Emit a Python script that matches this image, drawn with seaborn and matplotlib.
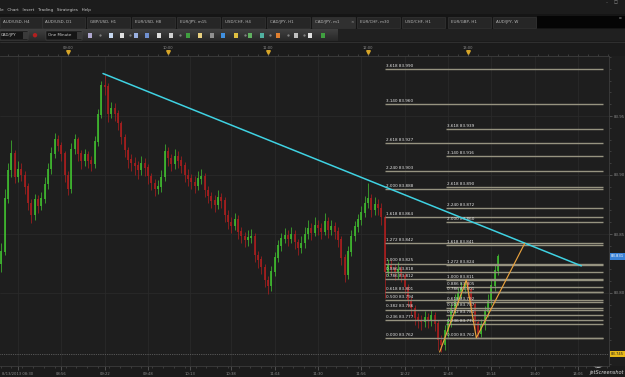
import numpy as np
import pandas as pd
import matplotlib
matplotlib.use("Agg")
import matplotlib.pyplot as plt
import seaborn as sns
from matplotlib.patches import Rectangle, Circle, Arc
from matplotlib.ticker import MultipleLocator, FixedLocator

# ------------------------------------------------------------------ data
symbol = "CAD/JPY"
candle_start = "08:20"          # first 2-minute candle
candle_step_min = 2
first_open = 83.825
closes = [83.835, 83.880, 83.904, 83.918, 83.898, 83.905, 83.900, 83.890, 83.876, 83.866,
          83.879, 83.874, 83.880, 83.892, 83.905, 83.918, 83.930, 83.925, 83.918, 83.900,
          83.888, 83.922, 83.930, 83.918, 83.912, 83.917, 83.912, 83.909, 83.928, 83.951,
          83.976, 83.975, 83.952, 83.956, 83.952, 83.944, 83.932, 83.921, 83.913, 83.910,
          83.908, 83.904, 83.910, 83.906, 83.899, 83.893, 83.888, 83.890, 83.898, 83.920,
          83.914, 83.909, 83.916, 83.912, 83.908, 83.900, 83.897, 83.894, 83.891, 83.897,
          83.899, 83.887, 83.882, 83.878, 83.875, 83.881, 83.878, 83.866, 83.860, 83.857,
          83.862, 83.852, 83.848, 83.845, 83.847, 83.848, 83.832, 83.828, 83.822, 83.811,
          83.806, 83.818, 83.830, 83.840, 83.846, 83.849, 83.846, 83.850, 83.843, 83.838,
          83.842, 83.850, 83.855, 83.851, 83.857, 83.855, 83.852, 83.861, 83.853, 83.856,
          83.852, 83.845, 83.830, 83.815, 83.835, 83.848, 83.856, 83.862, 83.868, 83.876,
          83.880, 83.870, 83.875, 83.872, 83.864, 83.818, 83.824, 83.821, 83.817, 83.820,
          83.815, 83.805, 83.794, 83.787, 83.779, 83.776, 83.775, 83.779, 83.777, 83.781,
          83.774, 83.760, 83.756, 83.768, 83.775, 83.786, 83.794, 83.800, 83.804, 83.808,
          83.803, 83.790, 83.775, 83.765, 83.773, 83.784, 83.794, 83.806, 83.819, 83.831]
highs = [83.842, 83.888, 83.910, 83.930, 83.921, 83.912, 83.910, 83.903, 83.893, 83.880,
         83.884, 83.883, 83.886, 83.898, 83.910, 83.924, 83.936, 83.934, 83.928, 83.920,
         83.903, 83.927, 83.935, 83.932, 83.921, 83.922, 83.920, 83.916, 83.933, 83.956,
         83.980, 83.986, 83.978, 83.962, 83.961, 83.955, 83.946, 83.935, 83.924, 83.918,
         83.915, 83.912, 83.916, 83.914, 83.909, 83.902, 83.897, 83.896, 83.904, 83.926,
         83.924, 83.918, 83.922, 83.920, 83.916, 83.911, 83.905, 83.901, 83.899, 83.903,
         83.905, 83.902, 83.891, 83.886, 83.883, 83.887, 83.885, 83.881, 83.870, 83.864,
         83.868, 83.866, 83.856, 83.852, 83.853, 83.854, 83.851, 83.836, 83.831, 83.825,
         83.814, 83.823, 83.835, 83.845, 83.851, 83.855, 83.853, 83.856, 83.853, 83.846,
         83.848, 83.856, 83.862, 83.859, 83.864, 83.862, 83.859, 83.868, 83.864, 83.862,
         83.860, 83.856, 83.848, 83.833, 83.840, 83.853, 83.861, 83.867, 83.874, 83.882,
         83.893, 83.884, 83.881, 83.880, 83.876, 83.866, 83.829, 83.828, 83.825, 83.826,
         83.823, 83.817, 83.808, 83.797, 83.790, 83.783, 83.781, 83.785, 83.783, 83.786,
         83.784, 83.777, 83.764, 83.773, 83.780, 83.791, 83.799, 83.805, 83.809, 83.811,
         83.810, 83.805, 83.792, 83.778, 83.778, 83.789, 83.799, 83.811, 83.824, 83.833]
lows = [83.818, 83.832, 83.876, 83.898, 83.893, 83.894, 83.895, 83.884, 83.870, 83.859,
        83.862, 83.868, 83.870, 83.876, 83.888, 83.901, 83.914, 83.920, 83.912, 83.894,
        83.883, 83.885, 83.918, 83.912, 83.905, 83.908, 83.906, 83.903, 83.906, 83.925,
        83.948, 83.968, 83.945, 83.948, 83.946, 83.938, 83.926, 83.915, 83.906, 83.903,
        83.900, 83.897, 83.900, 83.899, 83.892, 83.887, 83.882, 83.884, 83.886, 83.895,
        83.908, 83.903, 83.905, 83.906, 83.902, 83.894, 83.891, 83.888, 83.885, 83.887,
        83.892, 83.881, 83.876, 83.872, 83.869, 83.871, 83.872, 83.860, 83.854, 83.851,
        83.853, 83.846, 83.842, 83.839, 83.840, 83.842, 83.826, 83.821, 83.816, 83.805,
        83.799, 83.802, 83.814, 83.826, 83.836, 83.842, 83.840, 83.842, 83.837, 83.832,
        83.834, 83.838, 83.846, 83.845, 83.848, 83.849, 83.846, 83.849, 83.847, 83.849,
        83.846, 83.839, 83.824, 83.809, 83.812, 83.831, 83.844, 83.852, 83.858, 83.864,
        83.872, 83.864, 83.866, 83.866, 83.858, 83.796, 83.814, 83.815, 83.811, 83.812,
        83.809, 83.799, 83.788, 83.781, 83.773, 83.770, 83.769, 83.771, 83.770, 83.772,
        83.768, 83.752, 83.750, 83.752, 83.763, 83.771, 83.782, 83.790, 83.796, 83.800,
        83.797, 83.784, 83.769, 83.762, 83.763, 83.769, 83.780, 83.790, 83.802, 83.815]

trend_times = ["09:21", "14:08"]
trend_prices = [83.986, 83.823]
abc_times = ["12:43", "12:59", "13:05", "13:34"]
abc_prices = [83.750, 83.811, 83.762, 83.842]

fib1_start, fib_end = "12:10", "14:21"
fib1_ratios = [3.618, 3.140, 2.618, 2.240, 2.000, 1.618, 1.272, 1.000, 0.886, 0.786,
               0.618, 0.500, 0.382, 0.236, 0.000]
fib1_prices = [83.990, 83.960, 83.927, 83.903, 83.888, 83.864, 83.842, 83.825, 83.818,
               83.812, 83.801, 83.794, 83.786, 83.777, 83.762]
fib2_start = "12:47"
fib2_ratios = [3.618, 3.140, 2.618, 2.240, 2.000, 1.618, 1.272, 1.000, 0.886, 0.786,
               0.618, 0.500, 0.382, 0.236, 0.000]
fib2_prices = [83.939, 83.916, 83.890, 83.872, 83.860, 83.841, 83.824, 83.811, 83.805,
               83.801, 83.792, 83.787, 83.781, 83.774, 83.762]

price_ticks = [83.80, 83.85, 83.90, 83.95]
top_tick_labels = ["09:00", "10:00", "11:00", "12:00", "13:00"]
bottom_tick_labels = ["8/13/2013 08:30", "08:56", "09:22", "09:48", "10:13", "10:38", "11:04",
                      "11:30", "11:56", "12:22", "12:48", "13:14", "13:40", "14:06"]
current_price_label = "83.831"
marker_price, marker_label = 83.748, "83.745"

tabs = ["AUD/USD, H4", "AUD/USD, D1", "GBP/USD, H1", "EUR/USD, H8", "EUR/JPY, m15",
        "USD/CHF, H4", "CAD/JPY, H1", "CAD/JPY, m1", "EUR/CHF, m30", "USD/CHF, H1",
        "EUR/GBP, H1", "AUD/JPY, W"]
menu_items = "le   Chart   Insert   Trading   Strategies   Help"
timeframe = "One Minute"

# ------------------------------------------------------------------ helpers
def tmin(s):
    if " " in s:
        s = s.split(" ")[-1]
    h, m = s.split(":")
    return (int(h) - 8) * 60 + int(m)

sns.set_theme(style="dark")
plt.rcParams["font.family"] = ["DejaVu Sans"]

W, H = 625, 377
fig = plt.figure(figsize=(W / 100, H / 100), dpi=100)
fig.patch.set_facecolor("#1a1a1a")

bg = fig.add_axes([0, 0, 1, 1])
bg.set_zorder(0)
bg.axis("off")

def rect(x0, y0, x1, y1, fc, ec="none", lw=0.0, z=1):
    bg.add_patch(Rectangle((x0, y0), x1 - x0, y1 - y0, facecolor=fc, edgecolor=ec,
                           linewidth=lw, zorder=z))

# title / menu bar
rect(0, 0, W, 14, "#1c1c1c")
bg.text(0.5, 9.5, menu_items, fontsize=3.0, color="#c4c4c4", va="center", ha="left")
bg.text(606, 2.5, "\u2013", fontsize=3, color="#999", va="center")
bg.text(614, 2.5, "\u25a1", fontsize=3, color="#999", va="center")

# tab row
rect(0, 14, W, 29, "#151515")
tab_x = [0, 42, 87, 132, 177, 222, 267, 312, 357, 402, 448, 493]
tab_w = 43
for i, (x, t) in enumerate(zip(tab_x, tabs)):
    active = (i == 7)
    rect(x, 17, x + tab_w, 27.5, "#303030" if active else "#262626", ec="#3a3a3a", lw=0.4, z=2)
    bg.text(x + 3, 22.3, t, fontsize=2.9, color="#b8b8b8", va="center", ha="left", zorder=3)
    if active:
        bg.text(x + tab_w - 5, 22.3, "\u00d7", fontsize=3, color="#999", va="center", zorder=3)
rect(537, 16, W, 28, "#050505", z=2)
bg.text(619, 18, "\u25ab", fontsize=3, color="#888", va="center", zorder=3)

# toolbar
grad = np.linspace(0, 1, 20).reshape(-1, 1)
bg.imshow(grad, extent=(0, 338, 41, 29), aspect="auto",
          cmap=matplotlib.colors.LinearSegmentedColormap.from_list("tb", ["#404040", "#282828"]),
          zorder=1)
rect(338, 29, W, 41, "#202020")
rect(0, 31, 28, 39.5, "#151515", ec="#555", lw=0.3, z=2)
bg.text(1, 35.3, symbol, fontsize=2.9, color="#d0d0d0", va="center", zorder=3)
rect(23, 31.5, 28, 39, "#3a3a3a", z=3)
bg.add_patch(Circle((35, 35.2), 2.2, facecolor="#b02020", edgecolor="none", zorder=3))
rect(46, 31, 82, 39.5, "#151515", ec="#555", lw=0.3, z=2)
bg.text(48, 35.3, timeframe, fontsize=2.9, color="#d0d0d0", va="center", zorder=3)
rect(77, 31.5, 82, 39, "#3a3a3a", z=3)
icon_x = [90, 111, 122, 136, 147, 159, 171, 188, 200, 212, 223, 236, 250, 262, 278, 296, 310, 323]
icon_c = ["#b0a8d0", "#c8d8f0", "#e0e0e0", "#9ab0e0", "#7090d0", "#e0e0e0", "#d0d0d0", "#40a040",
          "#e8d080", "#909090", "#4090e0", "#e0c040", "#60b060", "#50b0a0", "#e08030", "#c0c0c0",
          "#e0e0e0", "#40a040"]
for x, c in zip(icon_x, icon_c):
    rect(x - 2.2, 33, x + 2.2, 37.6, c, z=3)
for x in [100, 130, 180, 245, 270, 288, 304]:
    bg.plot([x], [35.3], marker="o", ms=0.6, color="#888", zorder=3)

# top/bottom time bands
rect(0, 41, W, 56, "#1b1b1b")
bg.plot([0, W], [42.2, 42.2], color="#333", lw=0.6, zorder=2)
rect(0, 366, W, H, "#1b1b1b")
rect(609, 56, W, 366, "#1e1e1e")

bg.set_xlim(0, W)
bg.set_ylim(H, 0)

# ------------------------------------------------------------------ main chart
top_px, bot_px, right_px = 56, 366, 609
px_per_price = 1180.0
ylim_top = 83.80 + (293 - top_px) / px_per_price
ylim_bot = 83.80 - (bot_px - 293) / px_per_price
xlim_left = 19.2
xlim_right = xlim_left + right_px * 0.6

ax = fig.add_axes([0, (H - bot_px) / H, right_px / W, (bot_px - top_px) / H])
ax.set_zorder(2)
ax.set_facecolor("#1e1e1e")

n = len(closes)
t0 = tmin(candle_start)
times = np.array([t0 + candle_step_min * i for i in range(n)], dtype=float)
closes_a = np.array(closes)
opens_a = np.concatenate([[first_open], closes_a[:-1]])
highs_a = np.maximum(np.array(highs), np.maximum(opens_a, closes_a))
lows_a = np.minimum(np.array(lows), np.minimum(opens_a, closes_a))
up = closes_a >= opens_a
cols = np.where(up, "#3fb52f", "#a51e1e")
ax.vlines(times, lows_a, highs_a, colors=cols, lw=0.55, zorder=3)
ax.vlines(times, np.minimum(opens_a, closes_a), np.maximum(opens_a, closes_a) + 0.0004,
          colors=cols, lw=1.25, zorder=3)

# fib levels
fib_color = "#969380"
for start, ratios, prices in [(fib1_start, fib1_ratios, fib1_prices),
                              (fib2_start, fib2_ratios, fib2_prices)]:
    xs = tmin(start)
    ax.hlines(prices, xs, tmin(fib_end), colors=fib_color, lw=1.0, zorder=4)
    for r, p in zip(ratios, prices):
        ax.text(xs + 0.6, p + 0.0009, f"{r:.3f} {p:.3f}", fontsize=3.0, color="#e6e6e6",
                va="bottom", ha="left", zorder=5)

# trend line and ABC swing
trend_df = pd.DataFrame({"t": [tmin(s) for s in trend_times], "p": trend_prices})
sns.lineplot(data=trend_df, x="t", y="p", ax=ax, color="#3fd2e2", lw=1.1, sort=False,
             zorder=6, legend=False)
abc_df = pd.DataFrame({"t": [tmin(s) for s in abc_times], "p": abc_prices})
sns.lineplot(data=abc_df, x="t", y="p", ax=ax, color="#e9a23e", lw=0.85, sort=False,
             zorder=6, legend=False)

ax.axhline(marker_price, color="#8a8a8a", lw=0.5, ls=(0, (1, 1.6)), zorder=2)

ax.set_xlim(xlim_left, xlim_right)
ax.set_ylim(ylim_bot, ylim_top)
ax.set_xlabel("")
ax.set_ylabel("")

# right price axis
ax.yaxis.tick_right()
ax.set_yticks(price_ticks)
ax.set_yticklabels([f"{p:.2f}" for p in price_ticks])
ax.yaxis.set_minor_locator(MultipleLocator(0.01))
ax.tick_params(axis="y", which="major", right=True, left=False, length=2.5, width=0.5,
               color="#666", labelsize=2.8, labelcolor="#8c8c8c", pad=1.2)
ax.tick_params(axis="y", which="minor", right=True, left=False, length=1.5, width=0.4, color="#555")

# bottom time axis
bpos = [tmin(s) for s in bottom_tick_labels]
ax.set_xticks(bpos)
ax.set_xticklabels(bottom_tick_labels)
ax.xaxis.set_minor_locator(MultipleLocator(6.5))
ax.tick_params(axis="x", which="major", bottom=True, length=3, width=0.5, color="#666",
               labelsize=2.7, labelcolor="#8c8c8c", pad=1.0)
ax.tick_params(axis="x", which="minor", bottom=True, length=1.6, width=0.4, color="#555")

ax.grid(True, which="major", color="#2b2b2b", lw=0.5)
ax.set_axisbelow(True)
for s, sp in ax.spines.items():
    sp.set_visible(s in ("top", "right", "bottom"))
    sp.set_color("#3c3c3c")
    sp.set_linewidth(0.6)

# top time axis
sec = ax.secondary_xaxis("top")
sec.set_xticks([tmin(s) for s in top_tick_labels])
sec.set_xticklabels(top_tick_labels)
sec.xaxis.set_minor_locator(MultipleLocator(6))
sec.tick_params(axis="x", which="major", length=3, width=0.5, color="#666", labelsize=2.6,
                labelcolor="#8c8c8c", pad=1.6)
sec.tick_params(axis="x", which="minor", length=1.6, width=0.4, color="#555")
sec.spines["top"].set_visible(False)
ax.plot([tmin(s) for s in top_tick_labels], [1.012] * len(top_tick_labels),
        transform=ax.get_xaxis_transform(), ls="none", marker="v", ms=2.6,
        color="#d8a628", clip_on=False, zorder=7)

# price boxes
ax.text(1.003, closes[-1], current_price_label, transform=ax.get_yaxis_transform(),
        fontsize=2.7, color="white", va="center", ha="left", clip_on=False, zorder=8,
        bbox=dict(boxstyle="square,pad=0.3", fc="#3a82d6", ec="none"))
ax.text(1.003, marker_price, marker_label, transform=ax.get_yaxis_transform(),
        fontsize=2.7, color="#222", va="center", ha="left", clip_on=False, zorder=8,
        bbox=dict(boxstyle="square,pad=0.3", fc="#e6b818", ec="none"))

# watermark
bg.add_patch(Arc((598, 363), 11, 8, theta1=20, theta2=330, edgecolor="#d8d8d8", lw=1.1, zorder=9))
bg.add_patch(Arc((598, 363), 5, 3.5, theta1=200, theta2=500, edgecolor="#d8d8d8", lw=0.9, zorder=9))
bg.text(624, 372.5, "jetScreenshot", fontsize=3.6, color="#d8d8d8", ha="right", va="center",
        style="italic", zorder=9)

fig.savefig("out.png", dpi=100, facecolor=fig.get_facecolor())
